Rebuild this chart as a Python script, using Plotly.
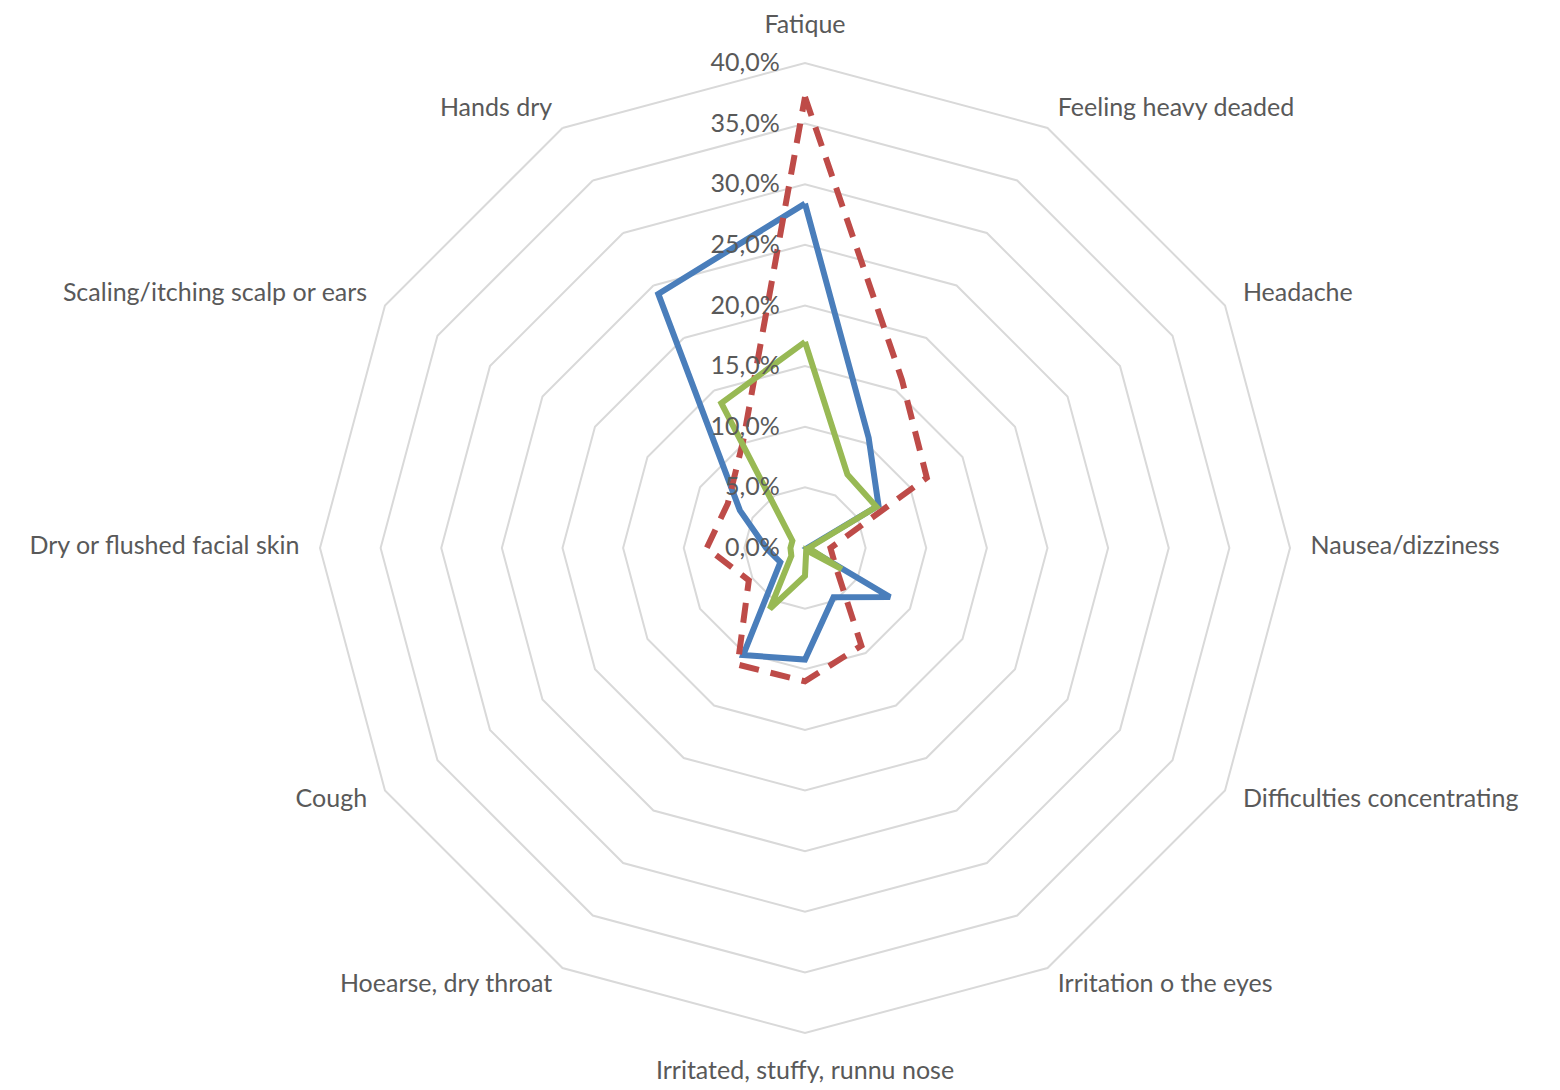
import plotly.graph_objects as go

categories = ["Fatique", "Feeling heavy deaded", "Headache", "Nausea/dizziness",
              "Difficulties concentrating", "Irritation o the eyes",
              "Irritated, stuffy, runnu nose", "Hoearse, dry throat", "Cough",
              "Dry or flushed facial skin", "Scaling/itching scalp or ears", "Hands dry"]

series_blue = [28.4, 10.5, 7.0, 0.2, 8.1, 4.7, 9.2, 10.2, 2.35, 3.2, 6.2, 24.2]
series_red = [37.2, 16.0, 11.6, 2.1, 2.9, 9.3, 11.0, 11.1, 5.35, 8.1, 7.35, 10.2]
series_green = [17.0, 7.0, 6.8, 0.3, 3.5, 0.2, 2.3, 5.8, 1.3, 1.2, 1.2, 13.8]

tick_vals = [0, 5, 10, 15, 20, 25, 30, 35, 40]
tick_text = ["0,0%", "5,0%", "10,0%", "15,0%", "20,0%", "25,0%", "30,0%", "35,0%", "40,0%"]

R_SCALE = 40     # outer ring value
R_RANGE = 42.5   # axis range (room for the category labels)
LABEL_R = 41.7   # radius (axis units) where category labels sit

def closed(v):
    return list(v) + [v[0]]

theta = closed(categories)

n = len(categories)
label_pos = []
label_r = []
for i in range(n):
    if i == 0:
        label_pos.append("top center")
        label_r.append(LABEL_R + 0.3)
    elif i == n // 2:
        label_pos.append("bottom center")
        label_r.append(LABEL_R + 0.55)
    elif i < n // 2:
        label_pos.append("middle right")
        label_r.append(LABEL_R)
    else:
        label_pos.append("middle left")
        label_r.append(LABEL_R)

font_family = "Lato, 'Open Sans', sans-serif"
fs = 25
txt_color = "#595959"

fig = go.Figure()
fig.add_trace(go.Scatterpolar(r=closed(series_blue), theta=theta, mode="lines",
                              line=dict(color="#4A7EBB", width=6), name="Series 1"))
fig.add_trace(go.Scatterpolar(r=closed(series_red), theta=theta, mode="lines",
                              line=dict(color="#BE4B48", width=6, dash="20px,12px"), name="Series 2"))
fig.add_trace(go.Scatterpolar(r=closed(series_green), theta=theta, mode="lines",
                              line=dict(color="#98B954", width=6), name="Series 3"))
# category labels
fig.add_trace(go.Scatterpolar(r=label_r, theta=categories, mode="text",
                              text=categories, textposition=label_pos,
                              textfont=dict(family=font_family, size=fs, color=txt_color),
                              cliponaxis=False, hoverinfo="skip", name="labels"))

# geometry: domain centre (plotly draws the polygon slightly offset from it)
cx, cy, r40 = 797, 540, 485
R = r40 * R_RANGE / R_SCALE
fig.update_layout(
    width=1560, height=1090,
    margin=dict(l=0, r=0, t=0, b=0),
    paper_bgcolor="white", plot_bgcolor="white",
    showlegend=False,
    font=dict(family=font_family, size=fs, color=txt_color),
    polar=dict(
        domain=dict(x=[(cx - R) / 1560, (cx + R) / 1560],
                    y=[1 - (cy + R) / 1090, 1 - (cy - R) / 1090]),
        bgcolor="white",
        gridshape="linear",
        radialaxis=dict(range=[0, R_RANGE], tickvals=tick_vals, ticktext=tick_text,
                        angle=90, side="counterclockwise", showline=False,
                        tickangle=90,
                        ticks="outside", ticklen=16, tickcolor="rgba(0,0,0,0)",
                        gridcolor="#D9D9D9", gridwidth=2,
                        tickfont=dict(family=font_family, size=fs, color=txt_color)),
        angularaxis=dict(direction="clockwise", rotation=90, showgrid=False,
                         showline=False, ticks="", showticklabels=False),
    ),
)

fig.write_html("out.html")
